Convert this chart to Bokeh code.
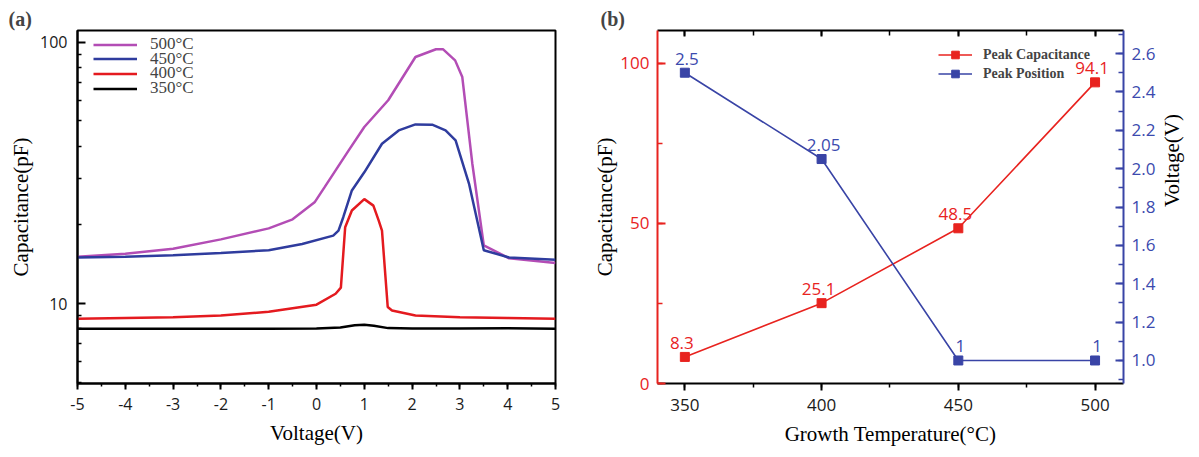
import math
from bokeh.plotting import figure
from bokeh.layouts import row
from bokeh.models import (Range1d, LinearAxis, Legend, LegendItem, FixedTicker,
                          PrintfTickFormatter, SingleIntervalTicker, CustomJSTickFormatter)
from bokeh.embed import file_html
from bokeh.resources import INLINE
from bokeh.core.properties import value

# ---------------- data: panel (a) C-V curves ----------------
v_350 = [-5, -4, -3, -2, -1, 0, 0.5, 0.8, 1.0, 1.2, 1.5, 2, 3, 4, 5]
c_350 = [8.0, 8.0, 8.0, 8.0, 8.0, 8.02, 8.1, 8.25, 8.3, 8.22, 8.05, 8.03, 8.02, 8.04, 8.0]

v_400 = [-5, -4, -3, -2, -1, -0.5, 0, 0.4, 0.51, 0.6, 0.74, 1.0, 1.19, 1.3, 1.37, 1.49, 1.58, 2.07, 3.0, 4.0, 5.0]
c_400 = [8.75, 8.8, 8.85, 9.0, 9.3, 9.6, 9.9, 10.9, 11.5, 19.6, 22.7, 25.1, 23.7, 20.8, 19.0, 9.7, 9.4, 9.0, 8.85, 8.8, 8.75]

v_450 = [-5, -4, -3, -2, -1, -0.3, 0.35, 0.46, 0.56, 0.74, 1.0, 1.37, 1.72, 2.07, 2.42, 2.7, 2.91, 3.19, 3.5, 4.03, 5.0]
c_450 = [15.0, 15.1, 15.3, 15.6, 16.0, 16.9, 18.2, 19.0, 21.4, 27.1, 31.8, 40.9, 46.0, 48.5, 48.4, 46.0, 42.1, 28.8, 16.0, 15.0, 14.7]

v_500 = [-5, -4, -3, -2, -1, -0.5, -0.04, 0.17, 0.67, 1.0, 1.5, 2.07, 2.5, 2.65, 2.9, 3.05, 3.26, 3.5, 4.03, 5.0]
c_500 = [15.1, 15.5, 16.2, 17.6, 19.4, 21.0, 24.4, 27.9, 38.5, 47.4, 60.0, 87.9, 94.1, 94.0, 85.3, 73.6, 34.3, 16.7, 14.9, 14.3]

labels_a = ["500°C", "450°C", "400°C", "350°C"]
y_major_a = [10, 100]
y_minor_a = [5, 6, 7, 8, 9, 20, 30, 40, 50, 60, 70, 80, 90]

# ---------------- data: panel (b) ----------------
temps = [350, 400, 450, 500]
peak_cap = [8.3, 25.1, 48.5, 94.1]
peak_pos = [2.5, 2.05, 1, 1]

MAG = "#b34db5"
BLU_A = "#2f3c9e"
RED_A = "#e41a1f"
RED = "#e8231f"
BLUE = "#3944a6"
BLUE_T = "#3b4aae"

SERIF = "Liberation Serif"
SANS = "Open Sans"

# ================= panel (a) =================
pa = figure(width=590, height=457, x_range=Range1d(-5, 5), y_range=Range1d(4.94, 111),
            y_axis_type="log", output_backend="svg", toolbar_location=None,
            min_border_left=77, min_border_right=35, min_border_top=30, min_border_bottom=74,
            title="(a)")
pa.grid.visible = False
pa.outline_line_color = "black"
pa.outline_line_width = 2
pa.title.text_font = SERIF
pa.title.text_font_size = "20px"
pa.title.text_font_style = "bold"
pa.title.offset = -69
pa.title.standoff = 2

xa = pa.xaxis[0]
xa.ticker = SingleIntervalTicker(interval=1, num_minor_ticks=2)
xa.formatter = PrintfTickFormatter(format="%d")
xa.axis_label = "Voltage(V)"
ya = pa.yaxis[0]
ya.ticker = FixedTicker(ticks=y_major_a, minor_ticks=y_minor_a)
ya.formatter = PrintfTickFormatter(format="%d")
ya.axis_label = "Capacitance(pF)"
for ax in (xa, ya):
    ax.axis_line_width = 2
    ax.axis_line_color = "black"
    ax.major_tick_line_width = 2
    ax.minor_tick_line_width = 1.5
    ax.major_label_text_font = SANS
    ax.major_label_text_font_size = "16px"
    ax.major_label_text_color = "#1a1a1a"
    ax.axis_label_text_font = SERIF
    ax.axis_label_text_font_size = "21px"
    ax.axis_label_text_font_style = "normal"
    ax.axis_label_text_color = "black"
xa.major_tick_out = 6
xa.major_tick_in = 0
xa.minor_tick_out = 3
xa.minor_tick_in = 0
xa.major_label_standoff = 8
xa.axis_label_standoff = 8
ya.major_tick_in = 8
ya.major_tick_out = 0
ya.minor_tick_in = 4
ya.minor_tick_out = 0
ya.major_label_standoff = 10
ya.axis_label_standoff = 4

r500 = pa.line(v_500, c_500, line_color=MAG, line_width=2.5)
r450 = pa.line(v_450, c_450, line_color=BLU_A, line_width=2.5)
r400 = pa.line(v_400, c_400, line_color=RED_A, line_width=2.5)
r350 = pa.line(v_350, c_350, line_color="black", line_width=2.5)

# one legend per row, so the rows can sit tighter than the text height
for k, (lab, rr) in enumerate(zip(labels_a, [r500, r450, r400, r350])):
    lg_k = Legend(items=[LegendItem(label=lab, renderers=[rr])],
                  location=(16, 329 - 14.7 * k), padding=0, margin=0, spacing=0,
                  label_height=15, glyph_height=15, glyph_width=44, label_standoff=13,
                  label_text_font=SERIF, label_text_font_size="17px",
                  background_fill_alpha=0, border_line_color=None)
    pa.add_layout(lg_k)

# ================= panel (b) =================
pb = figure(width=609, height=457, x_range=Range1d(340, 510.4), y_range=Range1d(0, 110.3),
            output_backend="svg", toolbar_location=None,
            min_border_left=60, min_border_right=71, min_border_top=29, min_border_bottom=74,
            title="(b)")
pb.extra_y_ranges = {"volt": Range1d(0.88, 2.72)}
pb.grid.visible = False
pb.outline_line_color = None
pb.title.text_font = SERIF
pb.title.text_font_size = "20px"
pb.title.text_font_style = "bold"
pb.title.offset = -57
pb.title.standoff = 2

xb = pb.xaxis[0]
xb.ticker = SingleIntervalTicker(interval=50, num_minor_ticks=2)
xb.axis_label = "Growth Temperature(°C)"
yb = pb.yaxis[0]
yb.ticker = SingleIntervalTicker(interval=50, num_minor_ticks=2)
yb.axis_label = "Capacitance(pF)"

yr = LinearAxis(y_range_name="volt", ticker=SingleIntervalTicker(interval=0.2, num_minor_ticks=2),
                formatter=PrintfTickFormatter(format="%.1f"), axis_label="Voltage(V)")
pb.add_layout(yr, "right")
xt = LinearAxis(ticker=SingleIntervalTicker(interval=50, num_minor_ticks=2),
                formatter=CustomJSTickFormatter(code="return ''"))
pb.add_layout(xt, "above")

for ax in (xb, yb, yr, xt):
    ax.axis_line_width = 2
    ax.major_tick_line_width = 2
    ax.minor_tick_line_width = 1.5
    ax.major_label_text_font = SANS
    ax.major_label_text_font_size = "17px"
    ax.major_label_text_color = "#1a1a1a"
    ax.axis_label_text_font = SERIF
    ax.axis_label_text_font_size = "21px"
    ax.axis_label_text_font_style = "normal"
    ax.axis_label_text_color = "black"

xb.major_tick_out = 7
xb.major_tick_in = 0
xb.minor_tick_out = 4
xb.minor_tick_in = 0
xb.major_label_standoff = 8
xb.axis_label_standoff = 8

xt.major_tick_out = 0
xt.major_tick_in = 6
xt.minor_tick_out = 0
xt.minor_tick_in = 5
xt.major_label_standoff = 0

for ax, col in ((yb, RED), (yr, BLUE)):
    ax.axis_line_color = col
    ax.major_tick_line_color = col
    ax.minor_tick_line_color = col
    ax.major_label_text_color = col if ax is yb else BLUE_T
    ax.major_tick_in = 8
    ax.major_tick_out = 0
    ax.minor_tick_in = 5
    ax.minor_tick_out = 0
    ax.major_label_standoff = 8
yb.axis_label_standoff = 0
yr.axis_label_standoff = 14
try:
    yr.axis_label_orientation = math.pi / 2
except Exception:
    pass

pb.line(temps, peak_cap, line_color=RED, line_width=1.6, legend_label="Peak Capacitance")
pb.scatter(temps, peak_cap, marker="square", size=9, color=RED, legend_label="Peak Capacitance")
pb.line(temps, peak_pos, y_range_name="volt", line_color=BLUE, line_width=1.6, legend_label="Peak Position")
pb.scatter(temps, peak_pos, y_range_name="volt", marker="square", size=9, color=BLUE, legend_label="Peak Position")

pb.text(temps, peak_cap, text=[f"{v:g}" for v in peak_cap], text_color=RED,
        text_align="center", text_baseline="bottom", y_offset=-8, x_offset=-3,
        text_font=value(SANS), text_font_size="17px")
pb.text(temps, peak_pos, y_range_name="volt", text=[f"{v:g}" for v in peak_pos], text_color=BLUE_T,
        text_align="center", text_baseline="bottom", y_offset=-8, x_offset=2,
        text_font=value(SANS), text_font_size="17px")

lg = pb.legend[0]
lg.location = (281, 300)
lg.padding = 0
lg.margin = 0
lg.spacing = 0
lg.label_height = 19
lg.glyph_height = 19
lg.glyph_width = 34
lg.label_standoff = 11
lg.label_text_font = SERIF
lg.label_text_font_size = "14px"
lg.label_text_font_style = "bold"
lg.background_fill_alpha = 0
lg.border_line_color = None

layout = row(pa, pb)
with open("out.html", "w") as f:
    f.write(file_html(layout, INLINE))
